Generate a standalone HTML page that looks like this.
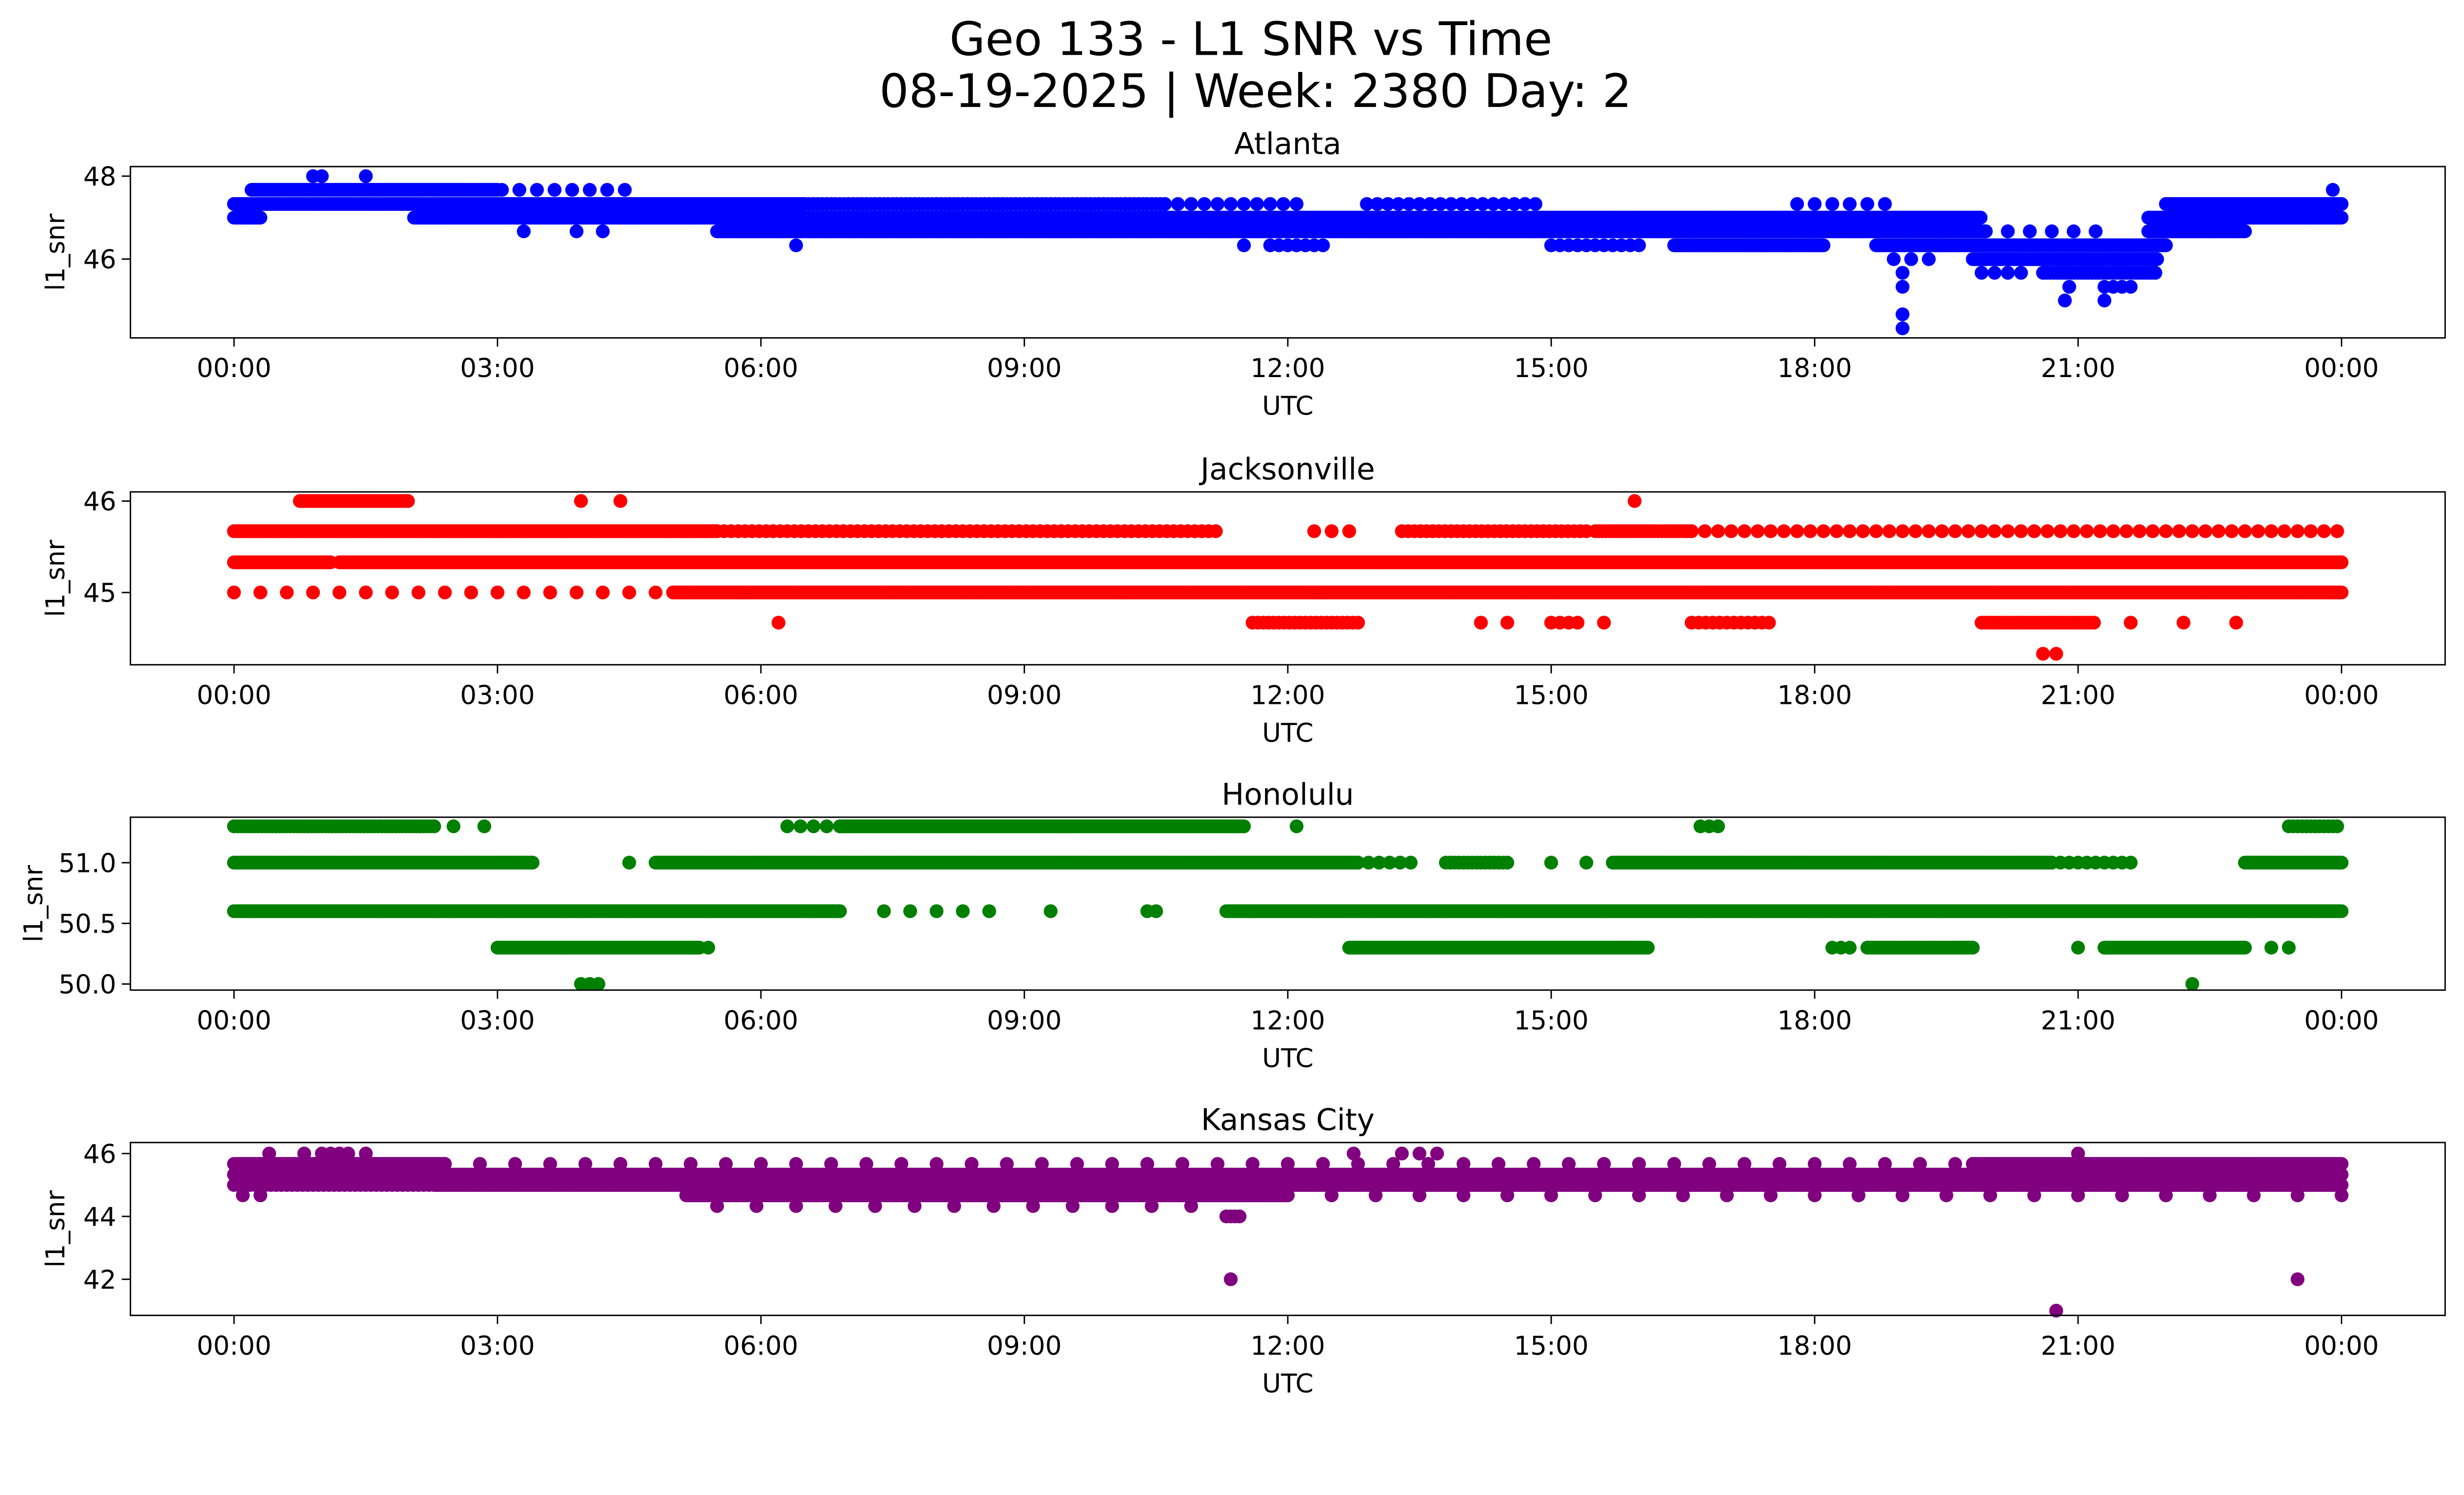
<!DOCTYPE html>
<html><head><meta charset="utf-8"><style>
html,body{margin:0;padding:0;background:#fff;overflow:hidden}
svg{display:block;position:absolute;left:0;top:0;width:100vw;height:57.4541vw;font-family:"DejaVu Sans","Liberation Sans",sans-serif}
</style></head><body>
<svg id="fig" viewBox="0 0 1568 901" preserveAspectRatio="none" xmlns="http://www.w3.org/2000/svg">
<rect width="1568" height="901" fill="#fff"/>
<text x="796" y="35" font-size="29.5" text-anchor="middle">Geo 133 - L1 SNR vs Time</text>
<text x="799" y="68" font-size="29.5" text-anchor="middle">08-19-2025 | Week: 2380 Day: 2</text>
</svg>
<script>
// x tick labels (hours)
const xTickHours=[0,3,6,9,12,15,18,21,24];
const xTickLabels=["00:00","03:00","06:00","09:00","12:00","15:00","18:00","21:00","00:00"];
// Runs: [startHour, endHour, value, samplingStepHours]
const atlantaRuns=[[0.2,3.0,47.67,0.02],[3.05,4.6,47.67,0.2],
[0,6.5,47.33,0.02],[6.5,10.6,47.33,0.05],[10.6,12.2,47.33,0.15],[12.9,14.9,47.33,0.12],[17.8,18.85,47.33,0.2],[22.0,24,47.33,0.02],
[0,0.3,47,0.02],[2.05,19.9,47,0.02],[21.8,24,47,0.02],
[5.5,19.95,46.67,0.02],[19.95,21.3,46.67,0.25],[21.8,22.9,46.67,0.02],
[11.8,12.4,46.33,0.1],[15.0,16.0,46.33,0.1],[16.4,18.1,46.33,0.02],[18.7,22.0,46.33,0.02],
[18.9,19.3,46,0.2],[19.8,21.9,46,0.02],[19.9,20.4,45.67,0.15],[20.6,21.9,45.67,0.04],[21.3,21.6,45.33,0.1]];
const atlantaPts=[[0.9,48],[1.0,48],[1.5,48],[3.3,46.67],[3.9,46.67],[4.2,46.67],[6.4,46.33],[11.5,46.33],[19.0,44.33],[19.0,44.67],[19.0,45.33],[19.0,45.67],[20.9,45.33],[20.85,45],[21.3,45],[23.9,47.67]];
const jaxRuns=[[0,1.1,45.33,0.02],[1.2,24,45.33,0.02],[0,5.5,45.67,0.02],[5.5,11.2,45.67,0.08],[12.3,12.8,45.67,0.2],[13.3,15.4,45.67,0.07],[15.5,16.6,45.67,0.04],[16.6,24,45.67,0.15],
[0,5,45,0.3],[5.0,24,45,0.02],[0.75,2.0,46,0.03],[11.6,12.8,44.67,0.06],[14.2,14.5,44.67,0.3],[15,15.3,44.67,0.1],[16.6,17.5,44.67,0.08],[19.9,21.2,44.67,0.04]];
const jaxPts=[[3.95,46],[4.4,46],[15.95,46],[6.2,44.67],[15.6,44.67],[21.6,44.67],[22.2,44.67],[22.8,44.67],[20.6,44.33],[20.75,44.33]];
const honoRuns=[[0,2.3,51.3,0.04],[6.3,6.9,51.3,0.15],[6.9,11.5,51.3,0.02],[16.7,16.95,51.3,0.1],[23.4,23.95,51.3,0.05],
[0,3.4,51,0.02],[4.8,12.8,51,0.02],[12.8,13.4,51,0.12],[13.8,14.5,51,0.05],[15.7,20.7,51,0.02],[20.7,21.6,51,0.1],[22.9,24,51,0.02],
[0,6.9,50.6,0.02],[7.4,8.6,50.6,0.3],[10.4,10.55,50.6,0.1],[11.3,24,50.6,0.02],
[3.0,5.3,50.3,0.02],[12.7,16.1,50.3,0.02],[18.2,18.4,50.3,0.1],[18.6,19.8,50.3,0.03],[21.3,22.9,50.3,0.02],[3.95,4.2,50,0.1]];
const honoPts=[[2.5,51.3],[2.85,51.3],[12.1,51.3],[4.5,51],[15,51],[15.4,51],[9.3,50.6],[5.4,50.3],[21.0,50.3],[23.2,50.3],[23.4,50.3],[22.3,50]];
const kcRuns=[[0,2.4,45.67,0.02],[2.4,19.8,45.67,0.4],[19.8,24,45.67,0.02],[0,24,45.33,0.02],[0,2.3,45,0.06],[2.3,24,45,0.02],
[5.15,12.0,44.67,0.02],[12.0,24,44.67,0.5],[5.5,11.3,44.33,0.45],[11.3,11.45,44,0.05]];
const kcPts=[[0.1,44.67],[0.3,44.67],[0.4,46],[0.8,46],[1.0,46],[1.1,46],[1.2,46],[1.3,46],[1.5,46],[12.75,46],[13.3,46],[13.5,46],[13.7,46],[21.0,46],[11.35,42],[23.5,42],[20.75,41]];

const panels=[
 {name:"atlanta",title:"Atlanta",color:"#0000ff",top:106,bot:215,ymin:44.1,ymax:48.23,ticks:[46,48],fmt:v=>String(v),runs:atlantaRuns,pts:atlantaPts},
 {name:"jacksonville",title:"Jacksonville",color:"#ff0000",top:313,bot:423,ymin:44.21,ymax:46.10,ticks:[45,46],fmt:v=>String(v),runs:jaxRuns,pts:jaxPts},
 {name:"honolulu",title:"Honolulu",color:"#008000",top:520,bot:630,ymin:49.95,ymax:51.375,ticks:[50,50.5,51],fmt:v=>v.toFixed(1),runs:honoRuns,pts:honoPts},
 {name:"kansas-city",title:"Kansas City",color:"#800080",top:727,bot:837,ymin:40.85,ymax:46.35,ticks:[42,44,46],fmt:v=>String(v),runs:kcRuns,pts:kcPts}
];
const NS="http://www.w3.org/2000/svg";
const svg=document.getElementById("fig");
const X0=83,X1=1556,XMIN=-1.18,XMAX=25.18;
function xs(h){return X0+(h-XMIN)/(XMAX-XMIN)*(X1-X0);}
function mk(tag,attrs,parent){const e=document.createElementNS(NS,tag);for(const k in attrs)e.setAttribute(k,attrs[k]);(parent||svg).appendChild(e);return e;}
panels.forEach(p=>{
 const g=mk("g",{});
 
 
 const ys=v=>p.bot-(v-p.ymin)/(p.ymax-p.ymin)*(p.bot-p.top);
 const t=mk("text",{x:(X0+X1)/2,y:p.top-8,"font-size":"19","text-anchor":"middle"},g);t.textContent=p.title;
 
 
 const pg=mk("g",{fill:p.color},g);
 
 
 const dot=(h,v)=>{mk("circle",{cx:xs(h).toFixed(1),cy:ys(v).toFixed(1),r:4.4},pg);};
 p.runs.forEach(r=>{for(let h=r[0];h<=r[1]+1e-9;h+=r[3])dot(h,r[2]);});
 p.pts.forEach(q=>dot(q[0],q[1]));
 const box=mk("rect",{x:X0,y:p.top,width:X1-X0,height:p.bot-p.top,fill:"none",stroke:"#000","stroke-width":0.9},g);
 
 
 xTickHours.forEach((h,i)=>{
  const x=xs(h);
  mk("line",{x1:x,x2:x,y1:p.bot,y2:p.bot+5.5,stroke:"#000","stroke-width":0.9},g);
  const tl=mk("text",{x:x,y:p.bot+25,"font-size":"16.5","text-anchor":"middle"},g);tl.textContent=xTickLabels[i];
  
  
 });
 p.ticks.forEach(v=>{
  const y=ys(v);
  mk("line",{x1:X0-5.5,x2:X0,y1:y,y2:y,stroke:"#000","stroke-width":0.9},g);
  const tl=mk("text",{x:X0-9,y:y+6,"font-size":"16.5","text-anchor":"end"},g);tl.textContent=p.fmt(v);
  
  
 });
 const xl=mk("text",{x:(X0+X1)/2,y:p.bot+49,"font-size":"16.5","text-anchor":"middle"},g);xl.textContent="UTC";
 
 
 const yx=p.name==="honolulu"?27:41;
 const yl=mk("text",{x:yx,y:(p.top+p.bot)/2,"font-size":"16.5","text-anchor":"middle",transform:`rotate(-90 ${yx} ${(p.top+p.bot)/2})`},g);yl.textContent="l1_snr";
 
 
});
</script>
</body></html>
